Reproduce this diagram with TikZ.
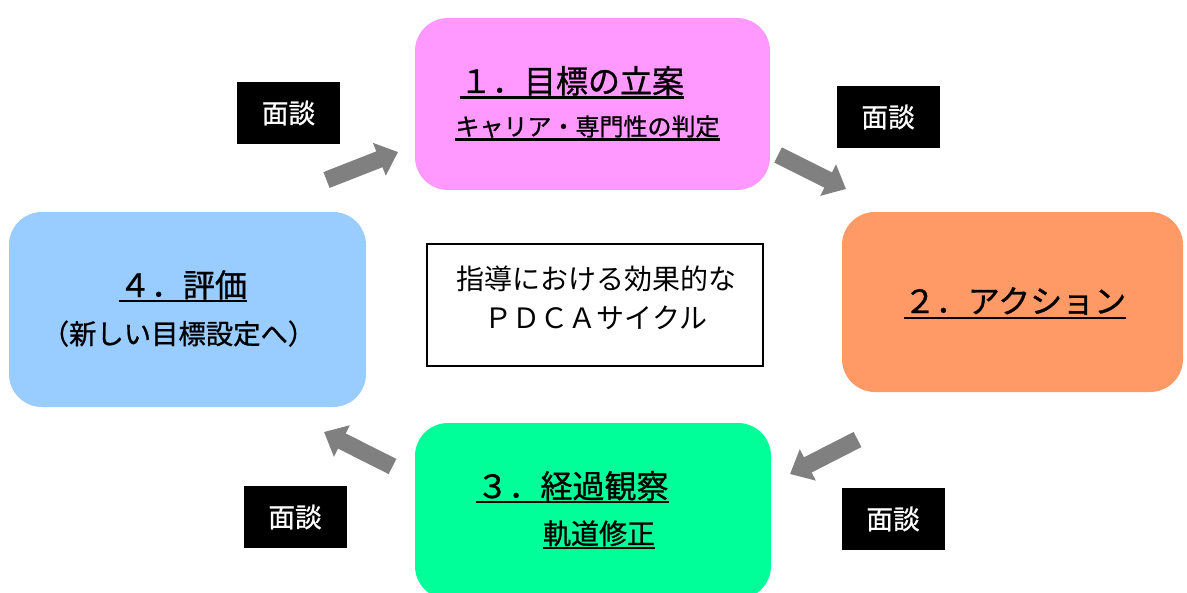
\documentclass[tikz,border=0pt]{standalone}
\usepackage{fontspec}
\newfontfamily\jp{Noto Sans CJK JP}
\newfontfamily\jpt{Noto Sans CJK JP}[FakeBold=0.9]
\usetikzlibrary{arrows.meta}
\definecolor{pinkbox}{HTML}{FF99FF}
\definecolor{orangebox}{HTML}{FF9966}
\definecolor{greenbox}{HTML}{00FF99}
\definecolor{bluebox}{HTML}{99CCFF}
\definecolor{arrowgray}{HTML}{808080}
\tikzset{
  stage/.style={rectangle, rounded corners=24.75pt, inner sep=0pt, draw=none},
  titletext/.style={inner sep=0pt, anchor=base, font=\jpt\fontsize{24pt}{28pt}\selectfont},
  subtext/.style={inner sep=0pt, anchor=base, font=\jpt\fontsize{18pt}{22pt}\selectfont},
  centertext/.style={inner sep=0pt, anchor=base, font=\jp\fontsize{21pt}{25pt}\selectfont},
  talkbox/.style={rectangle, fill=black, text=white, minimum width=77.25pt, minimum height=46.5pt, inner sep=0pt, font=\jpt\fontsize{20pt}{24pt}\selectfont},
  ulinestyle/.style={line width=1.6pt, black},
  blockarrow/.style={draw=arrowgray, line width=12.75pt, -{Triangle[length=15pt, width=25.5pt, fill=arrowgray]}},
}
\begin{document}
\begin{tikzpicture}[x=0.75pt,y=-0.75pt]
\useasboundingbox (0,0) rectangle (1187,592);
\clip (0,0) rectangle (1187,592);
\fill[white] (0,0) rectangle (1187,592);

% stage boxes
\node[stage, fill=pinkbox, minimum width=266.25pt, minimum height=129pt] (plan) at (592.5,104) {};
\node[stage, fill=orangebox, minimum width=255.75pt, minimum height=135pt] (act) at (1012.5,302) {};
\node[stage, fill=greenbox, minimum width=267pt, minimum height=132pt] (obs) at (593,511) {};
\node[stage, fill=bluebox, minimum width=267.75pt, minimum height=146.25pt] (eval) at (187.5,309.5) {};

% center box
\node[rectangle, draw=black, line width=1.5pt, fill=white, minimum width=252pt, minimum height=91.5pt, inner sep=0pt] (center) at (595,305) {};
\node[centertext] (c1) at (596,289) {指導における効果的な};
\node[centertext] (c2) at (596,328) {ＰＤＣＡサイクル};

% titles
\node[titletext] (t1) at (572,93) {１．目標の立案};
\draw[ulinestyle] ([yshift=-3.4pt]t1.base west) -- ([yshift=-3.4pt]t1.base east);
\node[subtext] (s1) at (587.5,135.5) {キャリア・専門性の判定};
\draw[ulinestyle] ([yshift=-3pt]s1.base west) -- ([yshift=-3pt]s1.base east);

\node[titletext] (t2) at (1015,313) {２．アクション};
\draw[ulinestyle] ([yshift=-3.6pt]t2.base west) -- ([yshift=-3.6pt]t2.base east);

\node[titletext] (t3) at (572.5,498) {３．経過観察};
\draw[ulinestyle] ([yshift=-3.2pt]t3.base west) -- ([yshift=-3.2pt]t3.base east);
\node[inner sep=0pt, anchor=base, font=\jpt\fontsize{21pt}{25pt}\selectfont] (s3) at (599,544) {軌道修正};
\draw[ulinestyle] ([yshift=-3pt]s3.base west) -- ([yshift=-3pt]s3.base east);

\node[titletext] (t4) at (183,297) {４．評価};
\draw[ulinestyle] ([yshift=-3.2pt]t4.base west) -- ([yshift=-3.2pt]t4.base east);
\node[inner sep=0pt, anchor=base, font=\jpt\fontsize{20.5pt}{24pt}\selectfont] (s4) at (178.5,344) {（新しい目標設定へ）};

% interview boxes
\node[talkbox] (m1) at (288.5,113) {面談};
\node[talkbox] (m2) at (888,117) {面談};
\node[talkbox] (m3) at (295,517) {面談};
\node[talkbox] (m4) at (893,519) {面談};

% arrows
\coordinate (a1s) at (326.5,180);
\coordinate (a1e) at (398,152);
\coordinate (a2s) at (778,155);
\coordinate (a2e) at (846,189);
\coordinate (a3s) at (857.5,439.5);
\coordinate (a3e) at (790,474);
\coordinate (a4s) at (392.5,466.5);
\coordinate (a4e) at (324,432);
\draw[blockarrow] (a1s) -- (a1e);
\draw[blockarrow] (a2s) -- (a2e);
\draw[blockarrow] (a3s) -- (a3e);
\draw[blockarrow] (a4s) -- (a4e);
\end{tikzpicture}
\end{document}
